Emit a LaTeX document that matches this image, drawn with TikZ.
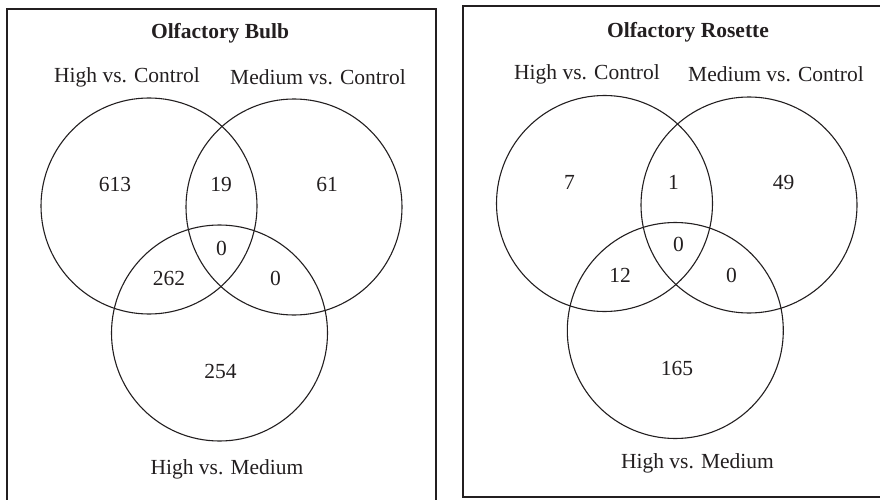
\documentclass[tikz,border=0pt]{standalone}
\usepackage{fontspec}
\setmainfont{Liberation Serif}
\definecolor{ink}{HTML}{231F20}
\begin{document}
\begin{tikzpicture}[x=1pt,y=-1pt,
  panel/.style={draw=ink,line width=2pt},
  setcirc/.style={circle,draw=ink,line width=1.1pt,minimum size=216pt,inner sep=0pt},
  title/.style={font=\fontsize{21.5}{24}\selectfont\bfseries,text=ink,inner sep=0pt},
  setlabel/.style={font=\fontsize{21.5}{24}\selectfont,text=ink,inner sep=0pt},
  count/.style={font=\fontsize{21.5}{24}\selectfont,text=ink,inner sep=0pt}]
\useasboundingbox (0,0) rectangle (880,500);
\fill[white] (0,0) rectangle (880,500);

% left panel: olfactory bulb
\draw[panel] (7,9) rectangle (436,504);
\node[title] (tb) at (220,33) {Olfactory Bulb};
\node[setlabel] (lhc) at (127,77) {High vs. Control};
\node[setlabel] (lmc) at (318,77) {Medium vs. Control};
\node[setcirc] (ca) at (149,206) {};
\node[setcirc] (cb) at (294,207) {};
\node[setcirc] (cc) at (219.5,333) {};
\node[count] (n613) at (115,184) {613};
\node[count] (n19) at (221,184) {19};
\node[count] (n61) at (327,184) {61};
\node[count] (n0c) at (221.5,248) {0};
\node[count] (n262) at (169,278) {262};
\node[count] (n0r) at (275.5,278) {0};
\node[count] (n254) at (220.5,371) {254};
\node[setlabel] (lhm) at (227,469) {High vs. Medium};

% right panel: olfactory rosette
\draw[panel] (463,6) rectangle (884,497);
\node[title] (tr) at (688,32) {Olfactory Rosette};
\node[setlabel] (rhc) at (587,74) {High vs. Control};
\node[setlabel] (rmc) at (776,74) {Medium vs. Control};
\node[setcirc] (da) at (604.5,203.5) {};
\node[setcirc] (db) at (749,205) {};
\node[setcirc] (dc) at (675.3,330.5) {};
\node[count] (m7) at (569.5,182) {7};
\node[count] (m1) at (673.5,182) {1};
\node[count] (m49) at (783.5,182) {49};
\node[count] (m0c) at (678.5,244.5) {0};
\node[count] (m12) at (620,275) {12};
\node[count] (m0r) at (731.5,275) {0};
\node[count] (m165) at (677,368.5) {165};
\node[setlabel] (rhm) at (697.5,463) {High vs. Medium};
\end{tikzpicture}
\end{document}
